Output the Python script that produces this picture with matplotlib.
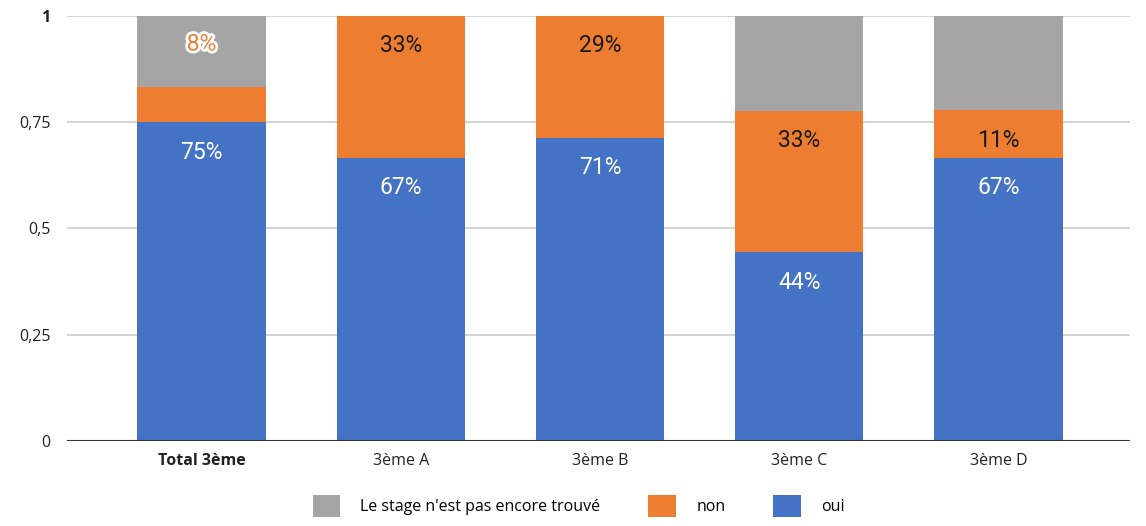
import matplotlib
matplotlib.use("Agg")
import matplotlib.pyplot as plt
import matplotlib.patheffects as pe
from matplotlib.patches import Patch

categories = ["Total 3ème", "3ème A", "3ème B", "3ème C", "3ème D"]
oui = [0.75, 0.667, 0.714, 0.444, 0.667]
non = [0.083, 0.333, 0.286, 0.333, 0.111]
pas_trouve = [0.167, 0.0, 0.0, 0.222, 0.222]
oui_labels = ["75%", "67%", "71%", "44%", "67%"]
non_labels = ["8%", "33%", "29%", "33%", "11%"]
series_names = ["Le stage n'est pas encore trouvé", "non", "oui"]
yticks = [0, 0.25, 0.5, 0.75, 1]
ytick_labels = ["0", "0,25", "0,5", "0,75", "1"]

c_oui = "#4472C4"
c_non = "#ED7D31"
c_gray = "#A5A5A5"

fig = plt.figure(figsize=(11.46, 5.26), dpi=100)
ax = fig.add_axes([0.0585, 0.1616, 0.9275, 0.808])

x = list(range(len(categories)))
w = 0.645
ax.bar(x, oui, width=w, color=c_oui, zorder=3)
bottom2 = [a for a in oui]
ax.bar(x, non, width=w, bottom=bottom2, color=c_non, zorder=3)
bottom3 = [a + b for a, b in zip(oui, non)]
ax.bar(x, pas_trouve, width=w, bottom=bottom3, color=c_gray, zorder=3)

lab_font = dict(family=["Roboto", "DejaVu Sans"], fontsize=16.5)
for i in x:
    ax.annotate(oui_labels[i], xy=(i, oui[i]), xytext=(0, -30), textcoords="offset pixels",
                ha="center", va="center", color="white", zorder=5, **lab_font)
    if non[i] >= 0.1:
        ax.annotate(non_labels[i], xy=(i, oui[i] + non[i]), xytext=(0, -30), textcoords="offset pixels",
                    ha="center", va="center", color="#1a1a1a", zorder=5, **lab_font)
    else:
        top = oui[i] + non[i] + pas_trouve[i]
        t = ax.annotate(non_labels[i], xy=(i, top), xytext=(0, -28), textcoords="offset pixels",
                        ha="center", va="center", color=c_non, zorder=5, **lab_font)
        t.set_path_effects([pe.withStroke(linewidth=4, foreground="white")])

ax.set_xlim(-0.675, 4.66)
ax.set_ylim(0, 1)
ax.set_yticks(yticks)
ax.set_yticklabels(ytick_labels)
ax.set_xticks(x)
ax.set_xticklabels(categories)
tick_font = ["Open Sans", "DejaVu Sans"]
for lbl in ax.get_yticklabels():
    lbl.set_family(tick_font)
    lbl.set_fontsize(11.5)
    lbl.set_color("#222222")
for lbl in ax.get_xticklabels():
    lbl.set_family(tick_font)
    lbl.set_fontsize(11.5)
    lbl.set_color("#222222")
ax.get_yticklabels()[-1].set_fontweight("bold")
ax.get_xticklabels()[0].set_fontweight("bold")

ax.tick_params(axis="both", length=0)
ax.tick_params(axis="y", pad=12)
ax.tick_params(axis="x", pad=9)
for s in ax.spines.values():
    s.set_visible(False)
ax.yaxis.grid(True, color="#cccccc", linewidth=1.2, zorder=0)
ax.set_axisbelow(True)
ax.axhline(0, color="#333333", linewidth=1.5, zorder=4)

handles = [Patch(facecolor=c_gray), Patch(facecolor=c_non), Patch(facecolor=c_oui)]
leg = fig.legend(handles, series_names, loc="lower center", bbox_to_anchor=(0.505, -0.01), ncol=3,
                 frameon=False, handlelength=1.7, handleheight=1.7, handletextpad=1.3,
                 columnspacing=3.0, prop={"family": tick_font, "size": 11.5})

fig.savefig("out.png", dpi=100)
